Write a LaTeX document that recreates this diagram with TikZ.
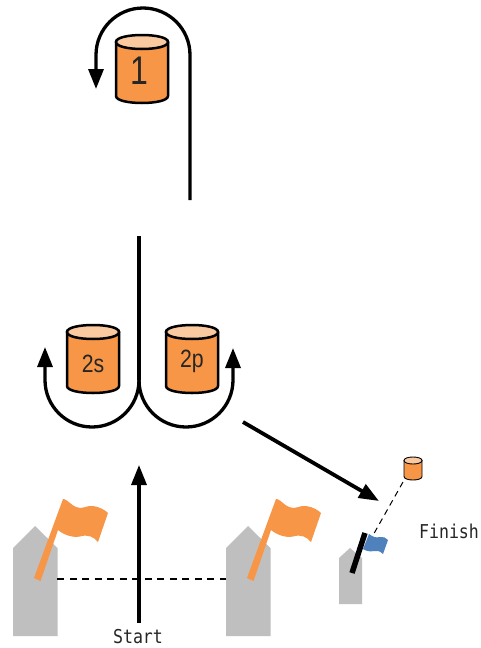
\documentclass[tikz,border=0pt]{standalone}
\usepackage{fontspec}
\setmainfont{Liberation Sans}
\newfontfamily\labelfont{DejaVu Sans Mono}
\usetikzlibrary{arrows.meta}
\definecolor{drumorange}{HTML}{F79646}
\definecolor{drumtop}{HTML}{FBC9A0}
\definecolor{flagblue}{HTML}{4F81BD}
\definecolor{postgray}{HTML}{BFBFBF}
\newcommand{\drumshape}[6]{% x0 x1 ytop ybot ry linewidth
  \draw[line width=#6,line join=round,fill=drumorange]
    (#1,#3+#5) -- (#1,#4-#5)
    .. controls (#1,#4+#5/3) and (#2,#4+#5/3) .. (#2,#4-#5) -- (#2,#3+#5)
    .. controls (#2,#3) and (#1,#3) .. (#1,#3+#5) -- cycle;
  \draw[line width=#6,fill=drumtop]
    (#1,#3+#5) .. controls (#1,#3-#5/3) and (#2,#3-#5/3) .. (#2,#3+#5)
    .. controls (#2,#3+#5*7/3) and (#1,#3+#5*7/3) .. (#1,#3+#5) -- cycle;}
\newcommand{\postshape}[1]{%
  \fill[postgray] (#1,636) -- (#1,548) -- (#1+22,526) -- (#1+44.5,548) -- (#1+44.5,636) -- cycle;}
\tikzset{
  course/.style={line width=3.3pt,line cap=butt,-{Triangle[length=20pt,width=15pt]}},
  plain course/.style={line width=3.3pt},
  gate/.style={line width=1.1pt,dash pattern=on 7pt off 5.5pt},
  drumtext/.style={inner sep=0pt,text=black!85,font=\fontsize{25}{25}\selectfont,xscale=.85},
  plate/.style={inner sep=0pt,text=black!85,font=\labelfont\fontsize{16.6}{17}\selectfont,yscale=1.15},
}
\begin{document}
\begin{tikzpicture}[x=1pt,y=-1pt]
\useasboundingbox[fill=white] (0,0) rectangle (481,648);
% posts
\postshape{13}
\postshape{226}
\fill[postgray] (339,604) -- (339,558) -- (350,548) -- (362,558) -- (362,604) -- cycle;
% orange flags
\foreach \dx in {0,213}{
\begin{scope}[shift={(\dx,0)}]
\fill[drumorange] (34,578) -- (40.5,581) -- (58,530)
  .. controls (64,535) and (73,538) .. (80,536.5)
  .. controls (88,534) and (94,537) .. (98,542)
  -- (108,513) .. controls (105,510) and (100,507) .. (93,506)
  .. controls (87,505) and (82,510) .. (76,507)
  .. controls (71,505) and (69,501) .. (64,499) -- (63,499) -- cycle;
\end{scope}}
% start line
\coordinate (gateL) at (57,579);
\coordinate (gateR) at (226,579);
\draw[gate] (gateL) -- (gateR);
% drums
\drumshape{116}{168}{35}{103}{7}{2.5pt}
\drumshape{67}{119}{325}{393}{7}{2.5pt}
\drumshape{166}{218}{325}{393}{7}{2.5pt}
\drumshape{404}{422}{457}{480}{3.5}{0.9pt}
\node[inner sep=0pt,text=black!85,font=\fontsize{40}{40}\selectfont,xscale=.8] (one) at (139.5,71) {1};
\node[drumtext] (twos) at (93,364) {2s};
\node[drumtext] (twop) at (192,361) {2p};
% course
\coordinate (a0) at (190,200);
\coordinate (a1) at (96,89);
\draw[course] (a0) -- (190,55) .. controls (190,29) and (169,8) .. (143,8)
  .. controls (117,8) and (96,29) .. (96,55) -- (a1);
\coordinate (b0) at (139,236);
\coordinate (b1) at (139,380);
\coordinate (b2) at (45,347);
\coordinate (b3) at (233,348);
\draw[plain course] (b0) -- (b1);
\draw[course] (b1) .. controls (139,406) and (118,427) .. (92,427)
  .. controls (66,427) and (45,406) .. (45,380) -- (b2);
\draw[course] (b1) .. controls (139,406) and (160,427) .. (186,427)
  .. controls (212,427) and (233,406) .. (233,380) -- (b3);
\coordinate (c0) at (139,623);
\coordinate (c1) at (139,465);
\draw[course] (c0) -- (c1);
\coordinate (d0) at (243,422);
\coordinate (d1) at (379,501);
\draw[course,line width=3.8pt] (d0) -- (d1);
% finish
\coordinate (f0) at (403,482);
\coordinate (f1) at (372,537);
\draw[gate,line width=1pt,dash pattern=on 6pt off 4.5pt] (f0) -- (f1);
\fill[flagblue] (369,534) .. controls (373,537) and (376,538) .. (380,537)
  .. controls (383,536) and (386,538) .. (388,540) -- (383,554)
  .. controls (380,551) and (377,550) .. (374,551) .. controls (370,552) and (366,551) .. (363,549) -- cycle;
\coordinate (p0) at (365,533);
\coordinate (p1) at (352,573);
\draw[line width=5.5pt] (p0) -- (p1);
% labels
\node[plate] (start) at (138,637) {Start};
\node[plate] (finish) at (449,531) {Finish};
\end{tikzpicture}
\end{document}
